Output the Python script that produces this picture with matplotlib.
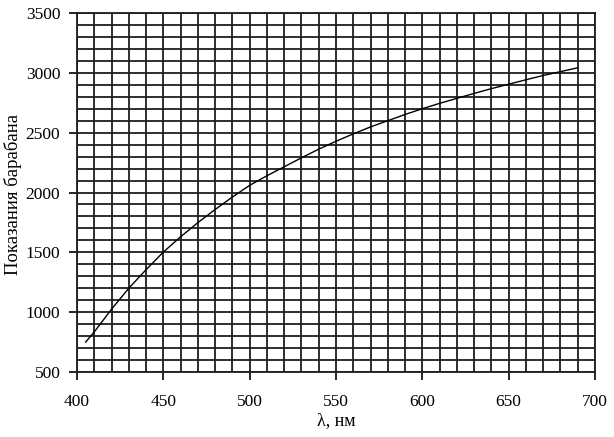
import matplotlib
matplotlib.use('Agg')
import matplotlib.pyplot as plt
from matplotlib.ticker import MultipleLocator

plt.rcParams['font.family'] = ['Liberation Serif', 'DejaVu Serif']

# длина волны, нм и показания барабана
wavelength = [405, 410, 420, 430, 440, 450, 460, 470, 480, 490, 500,
              510, 520, 530, 540, 550, 560, 570, 580, 590, 600,
              610, 620, 630, 640, 650, 660, 670, 680, 690]
drum = [750, 835, 1025, 1200, 1355, 1502, 1630, 1748, 1858, 1962, 2060,
        2140, 2215, 2290, 2362, 2428, 2490, 2548, 2600, 2652, 2700,
        2745, 2787, 2828, 2868, 2905, 2942, 2978, 3010, 3042]

xticks = [400, 450, 500, 550, 600, 650, 700]
yticks = [500, 1000, 1500, 2000, 2500, 3000, 3500]

fig = plt.figure(figsize=(6.14, 4.37), dpi=100)
ax = fig.add_axes([77/614, 1 - 372/437, (595 - 77)/614, (372 - 13)/437])

ax.plot(wavelength, drum, color='black', lw=1.0)

ax.set_xlim(400, 700)
ax.set_ylim(500, 3500)
ax.set_xticks(xticks)
ax.set_yticks(yticks)
ax.xaxis.set_minor_locator(MultipleLocator(10))
ax.yaxis.set_minor_locator(MultipleLocator(100))
ax.grid(which='both', color='#1e1e1e', lw=1.3)
ax.set_axisbelow(True)
ax.tick_params(which='major', direction='out', length=6, width=1.2,
               labelsize=12.5, pad=6, colors='black')
ax.tick_params(axis='x', pad=10)
ax.tick_params(which='minor', length=0)
for s in ax.spines.values():
    s.set_color('#1e1e1e')
    s.set_linewidth(1.3)

ax.set_xlabel('λ, нм', fontsize=13, labelpad=1)
# подпись оси y ставим вручную, чтобы не обрезалась слева
fig.text(13/614, 1 - 194/437, 'Показания барабана', fontsize=13.5,
         rotation=90, ha='center', va='center')

fig.savefig('out.png', dpi=100)
